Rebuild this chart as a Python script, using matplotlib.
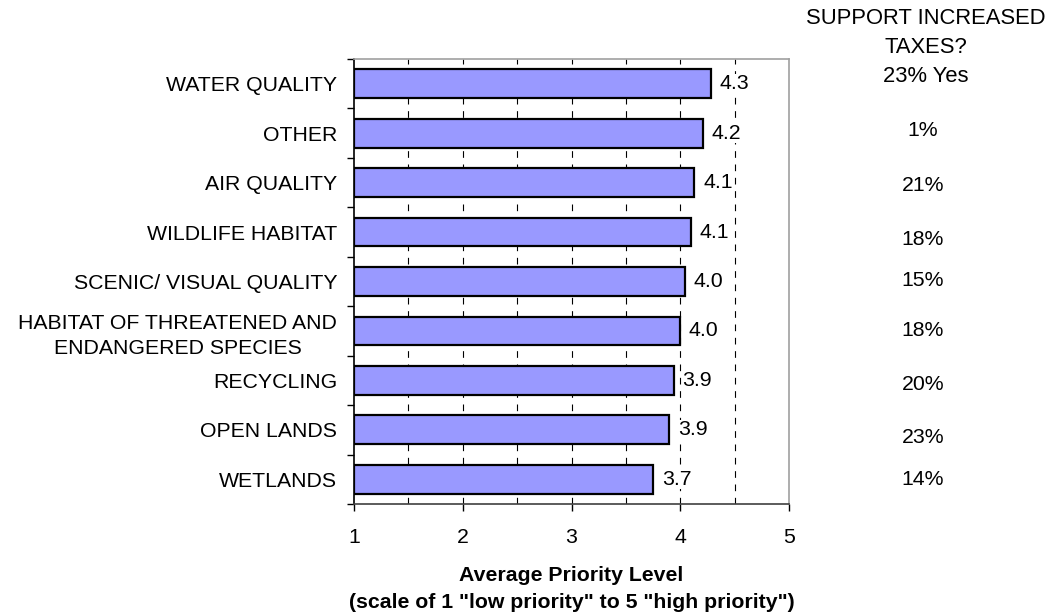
import numpy as np
import matplotlib.pyplot as plt
from matplotlib.transforms import blended_transform_factory, offset_copy

plt.rcParams['font.family'] = ['Liberation Sans', 'DejaVu Sans']

# data, top to bottom
categories = [
    "WATER QUALITY",
    "OTHER",
    "AIR QUALITY",
    "WILDLIFE HABITAT",
    "SCENIC/ VISUAL QUALITY",
    "HABITAT OF THREATENED AND\nENDANGERED SPECIES",
    "RECYCLING",
    "OPEN LANDS",
    "WETLANDS",
]
priority = [4.28, 4.21, 4.13, 4.10, 4.04, 4.00, 3.94, 3.90, 3.75]
value_labels = ["4.3", "4.2", "4.1", "4.1", "4.0", "4.0", "3.9", "3.9", "3.7"]
support_taxes = ["1%", "21%", "18%", "15%", "18%", "20%", "23%", "14%"]
support_header = ["SUPPORT INCREASED", "TAXES?", "23% Yes"]

FS = 15.3

fig = plt.figure(figsize=(10.53, 6.15), dpi=100)
ax = fig.add_axes([0.3362, 0.1805, 0.4131, 0.7235])

y = np.arange(len(categories))
ax.barh(y, np.array(priority) - 1, left=1, height=0.58,
        color='#9999FF', edgecolor='black', linewidth=1.6, zorder=3)

for yi, v, lab in zip(y, priority, value_labels):
    ax.text(v + 0.08, yi, lab, va='center', ha='left', fontsize=FS, zorder=4,
            bbox=dict(facecolor='white', edgecolor='none', pad=0))

ax.set_xlim(1, 5)
ax.set_ylim(len(categories) - 0.5, -0.5)

# dashed gridlines every 0.5
for gx in np.arange(1.5, 5, 0.5):
    ax.axvline(gx, color='black', linewidth=0.8, linestyle=(0, (6, 6)), zorder=1)

ax.set_xticks([1, 2, 3, 4, 5])
ax.set_xticklabels(['1', '2', '3', '4', '5'], fontsize=FS)
ax.tick_params(axis='x', direction='out', length=5, width=1, pad=12)

ax.set_yticks(y)
ax.set_yticklabels(categories, fontsize=FS, multialignment='center', linespacing=1.4)
ax.set_yticks(np.arange(-0.5, len(categories), 1), minor=True)
ax.tick_params(axis='y', which='major', length=0, pad=12)
ax.tick_params(axis='y', which='minor', direction='out', length=5, width=1)

ax.spines['left'].set_color('black')
ax.spines['bottom'].set_color('#404040')
ax.spines['top'].set_color('#a0a0a0')
ax.spines['right'].set_color('#a0a0a0')
for s in ax.spines.values():
    s.set_linewidth(1.2)

ax.set_xlabel('Average Priority Level\n(scale of 1 "low priority" to 5 "high priority")',
              fontsize=FS, fontweight='bold', labelpad=14, linespacing=1.5)

# right-hand column: support for increased taxes
# small vertical nudges (pixels) as in the original text boxes
nudge_px = [3, -3, -7, 1, 0, -4, -8, 0]
trans = blended_transform_factory(fig.transFigure, ax.transData)
for yi, txt, dy in zip(y[1:], support_taxes, nudge_px):
    t = offset_copy(trans, fig=fig, x=0, y=dy * 72 / fig.dpi, units='points')
    ax.text(923 / 1053, yi, txt, transform=t, ha='center', va='center',
            fontsize=FS, clip_on=False)
for i, line in enumerate(support_header):
    fig.text(926 / 1053, 1 - (18 + 29.5 * i) / 615, line, ha='center', va='center',
             fontsize=FS + 0.5)

fig.savefig('out.png', dpi=100)
